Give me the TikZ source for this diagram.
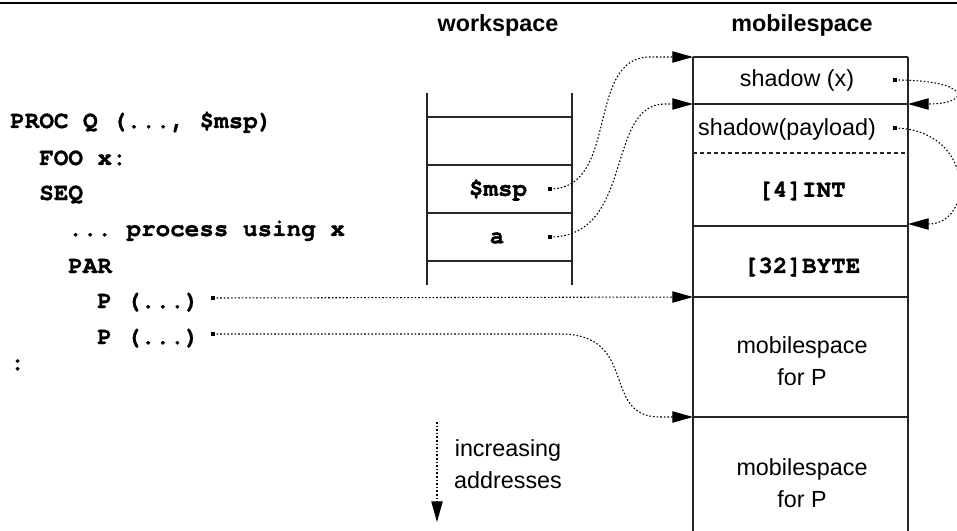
\documentclass[tikz,border=0pt]{standalone}
\usepackage{fontspec}
\setmainfont{Liberation Sans}
\newfontfamily\codefont{texgyrecursor-bold.otf}[FakeBold=1.2]
\usetikzlibrary{arrows.meta}

\begin{document}
\frenchspacing
\begin{tikzpicture}[x=0.75pt,y=-0.75pt,
  every node/.style={inner sep=0pt},
  frame/.style={line width=0.9pt, draw=black!85},
  sepline/.style={frame, dash pattern=on 3pt off 2.2pt},
  head/.style={font=\fontsize{17.5}{21}\selectfont\bfseries},
  lbl/.style={font=\fontsize{17.5}{24}\selectfont, align=center},
  mono/.style={font=\codefont\fontsize{18.2}{21}\selectfont},
  code/.style={mono, anchor=base west},
  pin/.style={fill=black, minimum size=2.4pt, inner sep=0pt},
  link/.style={line width=0.8pt, dash pattern=on 1.2pt off 1.5pt,
    -{Triangle[length=15.5pt,width=8.5pt]}},
]
\useasboundingbox (0,0) rectangle (957,531);

% top rule
\draw[line width=1.5pt] (0,3) -- (957,3);

% headings
\node[head] (hws) at (498,25) {workspace};
\node[head] (hms) at (802,25) {mobilespace};

% source code
\node[code] (c1) at (10,128) {PROC Q (..., \$msp)};
\node[code] (c2) at (39,165) {FOO x:};
\node[code] (c3) at (39,200) {SEQ};
\node[code] (c4) at (68,236) {... process using x};
\node[code] (c5) at (68,273) {PAR};
\node[code] (c6) at (97,308) {P (...)};
\node[code] (c7) at (97,344) {P (...)};
\node[code] (c8) at (10,370) {:};

% workspace ladder
\draw[frame] (427,93) -- (427,285) (572,93) -- (572,285);
\foreach \y in {117,165,213,261} \draw[frame] (427,\y) -- (572,\y);
\node[mono] (wmsp) at (498,190) {\$msp};
\node[mono] (wa) at (497,238) {a};

% mobilespace block
\draw[frame] (693,57) -- (693,535) (908,57) -- (908,535);
\foreach \y in {57,104,226,297,417} \draw[frame] (693,\y) -- (908,\y);
\draw[sepline] (693,153) -- (908,153);
\node[lbl] (sx) at (797,80) {shadow (x)};
\node[lbl] (sp) at (787,129) {shadow(payload)};
\node[mono] (int) at (802,191) {[4]INT};
\node[mono] (byte) at (802,267) {[32]BYTE};
\node[lbl] (mp1) at (802,361) {mobilespace\\for P};
\node[lbl] (mp2) at (802,483) {mobilespace\\for P};

% arrow targets on the block edges
\coordinate (t0) at (693,57);
\coordinate (t1) at (693,104);
\coordinate (t2) at (693,297);
\coordinate (t3) at (693,417);
\coordinate (r1) at (908,104);
\coordinate (r2) at (908,224);

% pointer origins
\node[pin] (pmsp) at (550,189) {};
\node[pin] (pa) at (550,237) {};
\node[pin] (pp1) at (213,298) {};
\node[pin] (pp2) at (213,334) {};
\node[pin] (psx) at (895,80) {};
\node[pin] (psp) at (895,128) {};

% pointers
\draw[link] (pmsp.center) .. controls (620,189) and (585,57) .. (650,57) -- (t0);
\draw[link] (pa.center) .. controls (635,237) and (605,104) .. (665,104) -- (t1);
\draw[link] (pp1.center) -- (t2);
\draw[link] (pp2.center) -- (560,334) .. controls (640,334) and (600,417) .. (660,417) -- (t3);
\draw[link] (psx.center) .. controls (972,80) and (972,104) .. (r1);
\draw[link] (psp.center) .. controls (975,130) and (975,224) .. (r2);

% address direction
\coordinate (dtop) at (437,422);
\coordinate (dbot) at (437,522);
\draw[link] (dtop) -- (dbot);
\node[lbl] (inc) at (508,464) {increasing\\addresses};
\end{tikzpicture}
\end{document}
